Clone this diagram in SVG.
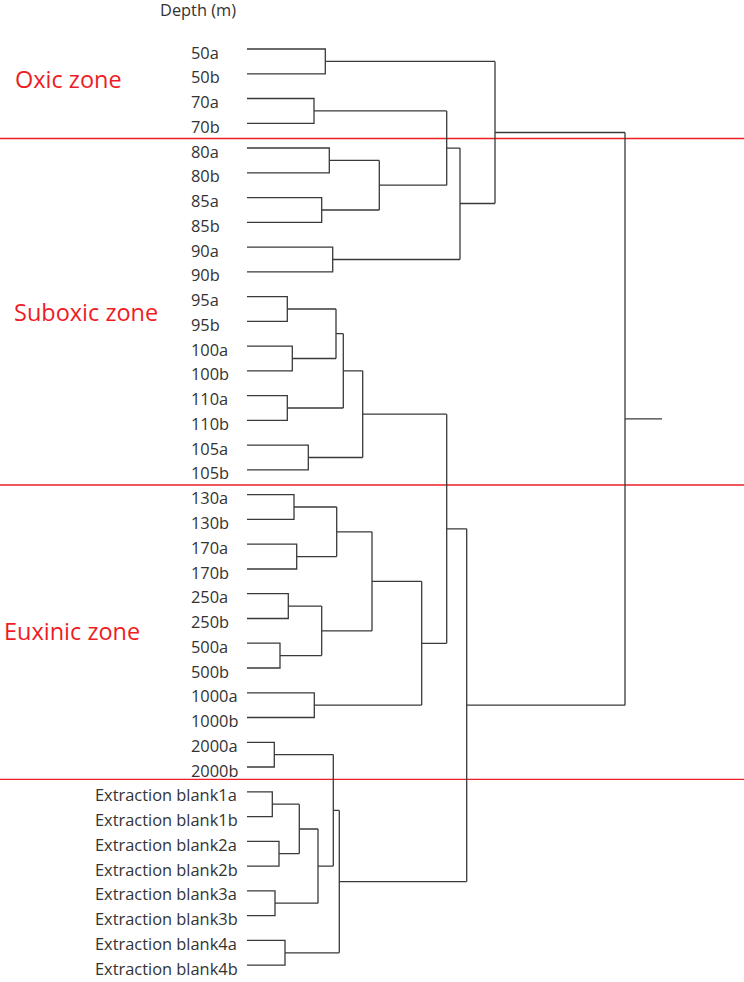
<svg xmlns="http://www.w3.org/2000/svg" width="744" height="982" viewBox="0 0 744 982">
<style>
.lbl{font-family:"Open Sans","Liberation Sans",sans-serif;font-size:16.4px;fill:#333333}
.zone{font-family:"Open Sans","Liberation Sans",sans-serif;font-size:23.5px;fill:#ee1c25}
.br{fill:none;stroke:#3a3a3a;stroke-width:1.3}
.sep{stroke:#ee1c25;stroke-width:1.3}
</style>
<rect width="744" height="982" fill="#ffffff"/>
<g id="header"><text class="lbl" x="160" y="16">Depth (m)</text></g>
<g id="zones">
<line class="sep" x1="0" y1="138.5" x2="744" y2="138.5"/>
<line class="sep" x1="0" y1="485" x2="744" y2="485"/>
<line class="sep" x1="0" y1="779.3" x2="744" y2="779.3"/>
<text class="zone" x="15" y="87.7">Oxic zone</text>
<text class="zone" x="14" y="320.7">Suboxic zone</text>
<text class="zone" x="4" y="640">Euxinic zone</text>
</g>
<g id="labels">
<text class="lbl" x="191" y="58.5">50a</text>
<text class="lbl" x="191" y="83.3">50b</text>
<text class="lbl" x="191" y="108">70a</text>
<text class="lbl" x="191" y="132.8">70b</text>
<text class="lbl" x="191" y="157.5">80a</text>
<text class="lbl" x="191" y="182.3">80b</text>
<text class="lbl" x="191" y="207.1">85a</text>
<text class="lbl" x="191" y="231.8">85b</text>
<text class="lbl" x="191" y="256.6">90a</text>
<text class="lbl" x="191" y="281.3">90b</text>
<text class="lbl" x="191" y="306.1">95a</text>
<text class="lbl" x="191" y="330.9">95b</text>
<text class="lbl" x="191" y="355.6">100a</text>
<text class="lbl" x="191" y="380.4">100b</text>
<text class="lbl" x="191" y="405.1">110a</text>
<text class="lbl" x="191" y="429.9">110b</text>
<text class="lbl" x="191" y="454.7">105a</text>
<text class="lbl" x="191" y="479.4">105b</text>
<text class="lbl" x="191" y="504.2">130a</text>
<text class="lbl" x="191" y="528.9">130b</text>
<text class="lbl" x="191" y="553.7">170a</text>
<text class="lbl" x="191" y="578.5">170b</text>
<text class="lbl" x="191" y="603.2">250a</text>
<text class="lbl" x="191" y="628">250b</text>
<text class="lbl" x="191" y="652.7">500a</text>
<text class="lbl" x="191" y="677.5">500b</text>
<text class="lbl" x="191" y="702.3">1000a</text>
<text class="lbl" x="191" y="727">1000b</text>
<text class="lbl" x="191" y="751.8">2000a</text>
<text class="lbl" x="191" y="776.5">2000b</text>
<text class="lbl" x="95" y="801.3">Extraction blank1a</text>
<text class="lbl" x="95" y="826.1">Extraction blank1b</text>
<text class="lbl" x="95" y="850.8">Extraction blank2a</text>
<text class="lbl" x="95" y="875.6">Extraction blank2b</text>
<text class="lbl" x="95" y="900.3">Extraction blank3a</text>
<text class="lbl" x="95" y="925.1">Extraction blank3b</text>
<text class="lbl" x="95" y="949.9">Extraction blank4a</text>
<text class="lbl" x="95" y="974.6">Extraction blank4b</text>
</g>
<g id="connectors">
<path class="br" d="M247 49H325.3V73.8H247M325.3 61.4H495"/>
<path class="br" d="M247 98.5H314V123.3H247M314 110.9H446.7"/>
<path class="br" d="M247 148H329.3V172.8H247M329.3 160.4H379.3"/>
<path class="br" d="M247 197.6H321.7V222.3H247M321.7 210H379.3"/>
<path class="br" d="M379.3 160.4V210M379.3 185.2H446.7"/>
<path class="br" d="M446.7 110.9V185.2M446.7 148.1H460"/>
<path class="br" d="M247 247.1H332.7V271.8H247M332.7 259.5H460"/>
<path class="br" d="M460 148.1V259.5M460 203.5H495"/>
<path class="br" d="M495 61.4V203.5M495 132.5H625"/>
<path class="br" d="M247 296.6H287.3V321.4H247M287.3 309H336"/>
<path class="br" d="M247 346.1H292.3V370.9H247M292.3 358.5H336"/>
<path class="br" d="M336 309V358.5M336 333.7H343.3"/>
<path class="br" d="M247 395.6H287.3V420.4H247M287.3 408H343.3"/>
<path class="br" d="M343.3 333.7V408M343.3 370.8H362.7"/>
<path class="br" d="M247 445.2H308.3V469.9H247M308.3 457.5H362.7"/>
<path class="br" d="M362.7 370.8V457.5M362.7 414.2H446.7"/>
<path class="br" d="M247 494.7H294V519.4H247M294 507H336.7"/>
<path class="br" d="M247 544.2H296.7V569H247M296.7 556.6H336.7"/>
<path class="br" d="M336.7 507V556.6M336.7 531.8H372"/>
<path class="br" d="M247 593.7H288.3V618.5H247M288.3 606.1H321.7"/>
<path class="br" d="M247 643.2H280V668H247M280 655.6H321.7"/>
<path class="br" d="M321.7 606.1V655.6M321.7 630.9H372"/>
<path class="br" d="M372 531.8V630.9M372 581.4H421.7"/>
<path class="br" d="M247 692.8H314.3V717.5H247M314.3 705.1H421.7"/>
<path class="br" d="M421.7 581.4V705.1M421.7 643.3H446.7"/>
<path class="br" d="M446.7 414.2V643.3M446.7 528.8H466.7"/>
<path class="br" d="M247 742.3H274.3V767H247M274.3 754.6H333.3"/>
<path class="br" d="M247 791.8H272.3V816.6H247M272.3 804.2H299.3"/>
<path class="br" d="M247 841.3H279V866.1H247M279 853.7H299.3"/>
<path class="br" d="M299.3 804.2V853.7M299.3 829H318"/>
<path class="br" d="M247 890.8H275V915.6H247M275 903.2H318"/>
<path class="br" d="M318 829V903.2M318 866.1H333.3"/>
<path class="br" d="M333.3 754.6V866.1M333.3 810.4H339.3"/>
<path class="br" d="M247 940.4H285V965.1H247M285 952.8H339.3"/>
<path class="br" d="M339.3 810.4V952.8M339.3 881.6H466.7"/>
<path class="br" d="M466.7 528.8V881.6M466.7 705.2H625"/>
<path class="br" d="M625 132.5V705.2M625 418.9H662"/>
</g>
</svg>
